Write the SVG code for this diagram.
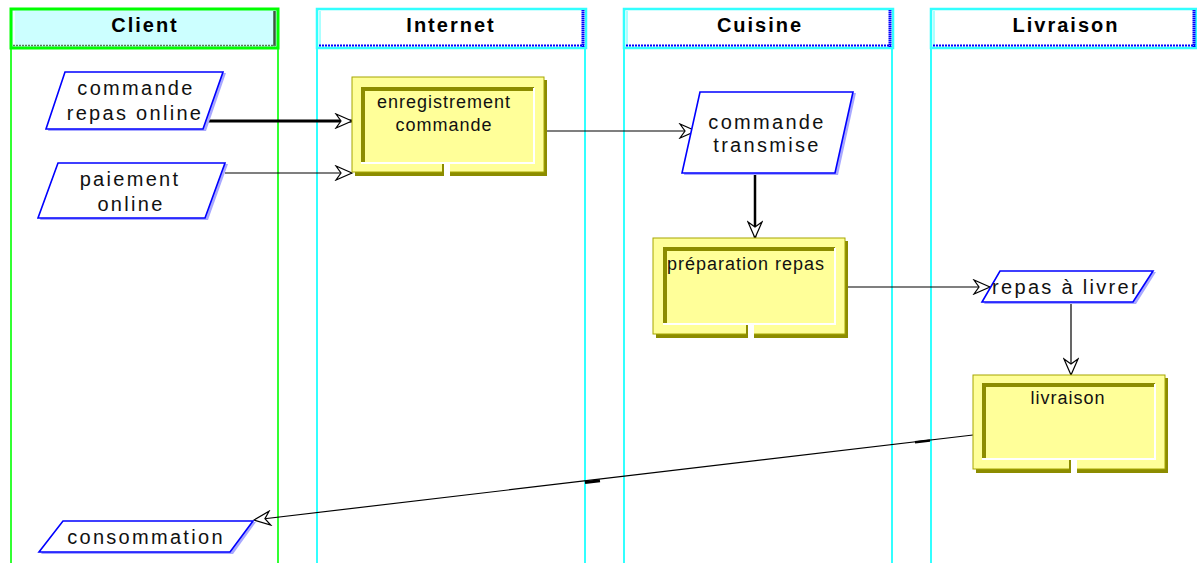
<svg xmlns="http://www.w3.org/2000/svg" width="1197" height="563" viewBox="0 0 1197 563">
<style>
.hdr{font-family:"Liberation Sans",Arial,sans-serif;font-weight:bold;font-size:20px;letter-spacing:2px;text-anchor:middle;fill:#000}
.dt{font-family:"Liberation Sans",Arial,sans-serif;font-size:20px;letter-spacing:2.3px;text-anchor:middle;fill:#111}
.pt{font-family:"Liberation Sans",Arial,sans-serif;font-size:18px;letter-spacing:1px;text-anchor:middle;fill:#111}
.pshadow{fill:#a8a8ff}
.para{fill:#fff;stroke:#0000ff;stroke-width:1.6}
.bshadow{fill:#8c8c00}
.bouter{fill:#ffff99;stroke:#a6a600;stroke-width:1}
.binner{fill:#ffff99}
.btl{stroke:#8c8c00;stroke-width:4;fill:none}
.bbr{stroke:#fff;stroke-width:2;fill:none}
.lane-g{stroke:#33ff33;stroke-width:2}
.lane-c{stroke:#33ffff;stroke-width:2}
.conn{stroke:#000;fill:none}
</style>
<defs>
<marker id="arr" markerUnits="userSpaceOnUse" markerWidth="22" markerHeight="16" refX="18" refY="8" orient="auto">
<path d="M18,8 L2,1 L7,8 L2,15 Z" fill="#fff" stroke="#000" stroke-width="1.2" stroke-linejoin="miter"/>
</marker>
</defs>
<rect width="1197" height="563" fill="#fff"/>

<g id="lanes">
<line class="lane-g" x1="11" y1="48" x2="11" y2="563"/>
<line class="lane-g" x1="278" y1="48" x2="278" y2="563"/>
<line class="lane-c" x1="317" y1="48" x2="317" y2="563"/>
<line class="lane-c" x1="585" y1="48" x2="585" y2="563"/>
<line class="lane-c" x1="624" y1="48" x2="624" y2="563"/>
<line class="lane-c" x1="892" y1="48" x2="892" y2="563"/>
<line class="lane-c" x1="931" y1="48" x2="931" y2="563"/>
</g>

<g id="lane-client">
<rect x="11" y="9" width="267" height="39" fill="#ccffff" stroke="#00ff00" stroke-width="3"/>
<line x1="14" y1="11" x2="14" y2="45" stroke="#fff" stroke-width="1.5"/>
<line x1="274.5" y1="11" x2="274.5" y2="46" stroke="#3a5a3a" stroke-width="2.5"/>
<line x1="13" y1="45.5" x2="275" y2="45.5" stroke="#5a7a5a" stroke-width="1.5" stroke-dasharray="2,1"/>
<text class="hdr" x="145" y="32">Client</text>
</g>

<g id="lane-internet">
<rect x="317" y="9" width="269" height="39" fill="#fff" stroke="#33ffff" stroke-width="2.5"/>
<line x1="320" y1="11" x2="320" y2="45" stroke="#aaffff" stroke-width="2"/>
<line x1="583" y1="10" x2="583" y2="47" stroke="#0000ff" stroke-width="3" stroke-dasharray="1.5,0.5"/>
<line x1="319" y1="45.5" x2="584" y2="45.5" stroke="#0000ff" stroke-width="2" stroke-dasharray="2,1"/>
<text class="hdr" x="451" y="32">Internet</text>
</g>

<g id="lane-cuisine">
<rect x="624" y="9" width="269" height="39" fill="#fff" stroke="#33ffff" stroke-width="2.5"/>
<line x1="627" y1="11" x2="627" y2="45" stroke="#aaffff" stroke-width="2"/>
<line x1="890" y1="10" x2="890" y2="47" stroke="#0000ff" stroke-width="3" stroke-dasharray="1.5,0.5"/>
<line x1="626" y1="45.5" x2="891" y2="45.5" stroke="#0000ff" stroke-width="2" stroke-dasharray="2,1"/>
<text class="hdr" x="760" y="32">Cuisine</text>
</g>

<g id="lane-livraison">
<rect x="931" y="9" width="265" height="39" fill="#fff" stroke="#33ffff" stroke-width="2.5"/>
<line x1="934" y1="11" x2="934" y2="45" stroke="#aaffff" stroke-width="2"/>
<line x1="1194" y1="10" x2="1194" y2="47" stroke="#0000ff" stroke-width="3" stroke-dasharray="1.5,0.5"/>
<line x1="933" y1="45.5" x2="1195" y2="45.5" stroke="#0000ff" stroke-width="2" stroke-dasharray="2,1"/>
<text class="hdr" x="1066" y="32">Livraison</text>
</g>

<g id="connectors">
<line class="conn" x1="203" y1="121" x2="352" y2="121" stroke-width="3" marker-end="url(#arr)"/>
<line class="conn" x1="225" y1="173" x2="352" y2="173" stroke-width="1.2" marker-end="url(#arr)"/>
<line class="conn" x1="547" y1="131" x2="696" y2="131" stroke-width="1.2" marker-end="url(#arr)"/>
<line class="conn" x1="755" y1="173" x2="755" y2="238" stroke-width="2.5" marker-end="url(#arr)"/>
<line class="conn" x1="847" y1="287" x2="990" y2="287" stroke-width="1.2" marker-end="url(#arr)"/>
<line class="conn" x1="1071" y1="302" x2="1071" y2="375" stroke-width="1.2" marker-end="url(#arr)"/>
<line class="conn" x1="973" y1="435" x2="254" y2="520" stroke-width="1.2" marker-end="url(#arr)"/>
<line x1="585" y1="482.5" x2="600" y2="480.7" stroke="#000" stroke-width="3"/>
<line x1="915" y1="442.2" x2="930" y2="440.4" stroke="#000" stroke-width="2.5"/>
</g>

<g id="node-commande-repas-online">
<polygon class="pshadow" points="67,73 226,73 206,131 48,131"/>
<polygon class="para" points="65,72 223,72 203,129 46,129"/>
<text class="dt" x="136" y="95">commande</text>
<text class="dt" x="135" y="120">repas online</text>
</g>

<g id="node-paiement-online">
<polygon class="pshadow" points="60,164 228,164 208,220 40,220"/>
<polygon class="para" points="58,163 225,163 205,218 38,218"/>
<text class="dt" x="130" y="186">paiement</text>
<text class="dt" x="131" y="211">online</text>
</g>

<g id="node-enregistrement-commande">
<rect class="bshadow" x="355" y="80" width="192" height="96"/>
<rect class="bouter" x="352" y="77" width="192" height="95"/>
<rect class="binner" x="361" y="87" width="173" height="76"/>
<polyline class="btl" points="363,163 363,89 534,89"/>
<polyline class="bbr" points="534,88 534,163 361,163"/>
<rect x="444" y="164" width="6" height="12" fill="#fff"/>
<line x1="443" y1="164" x2="443" y2="176" stroke="#8c8c00" stroke-width="2"/>
<text class="pt" x="444" y="108">enregistrement</text>
<text class="pt" x="444" y="131">commande</text>
</g>

<g id="node-commande-transmise">
<polygon class="pshadow" points="702,93 856,93 838,175 684,175"/>
<polygon class="para" points="700,92 853,92 835,173 682,173"/>
<text class="dt" x="767" y="129">commande</text>
<text class="dt" x="767" y="152">transmise</text>
</g>

<g id="node-preparation-repas">
<rect class="bshadow" x="656" y="241" width="192" height="97"/>
<rect class="bouter" x="653" y="238" width="192" height="96"/>
<rect class="binner" x="663" y="247" width="172" height="77"/>
<polyline class="btl" points="665,324 665,249 835,249"/>
<polyline class="bbr" points="835,248 835,324 663,324"/>
<rect x="748" y="325" width="6" height="13" fill="#fff"/>
<line x1="747" y1="325" x2="747" y2="338" stroke="#8c8c00" stroke-width="2"/>
<text class="pt" x="746" y="270">préparation repas</text>
</g>

<g id="node-repas-a-livrer">
<polygon class="pshadow" points="1002,272 1156,272 1136,304 984,304"/>
<polygon class="para" points="1000,271 1153,271 1133,302 982,302"/>
<text class="dt" x="1066" y="294">repas à livrer</text>
</g>

<g id="node-livraison">
<rect class="bshadow" x="976" y="378" width="192" height="95"/>
<rect class="bouter" x="973" y="375" width="192" height="94"/>
<rect class="binner" x="982" y="383" width="173" height="76"/>
<polyline class="btl" points="984,459 984,385 1155,385"/>
<polyline class="bbr" points="1155,384 1155,459 982,459"/>
<rect x="1071" y="460" width="6" height="13" fill="#fff"/>
<line x1="1070" y1="460" x2="1070" y2="473" stroke="#8c8c00" stroke-width="2"/>
<text class="pt" x="1068" y="404">livraison</text>
</g>

<g id="node-consommation">
<polygon class="pshadow" points="65,522 256,522 233,554 41,554"/>
<polygon class="para" points="63,521 253,521 230,552 39,552"/>
<text class="dt" x="146" y="544">consommation</text>
</g>
</svg>
